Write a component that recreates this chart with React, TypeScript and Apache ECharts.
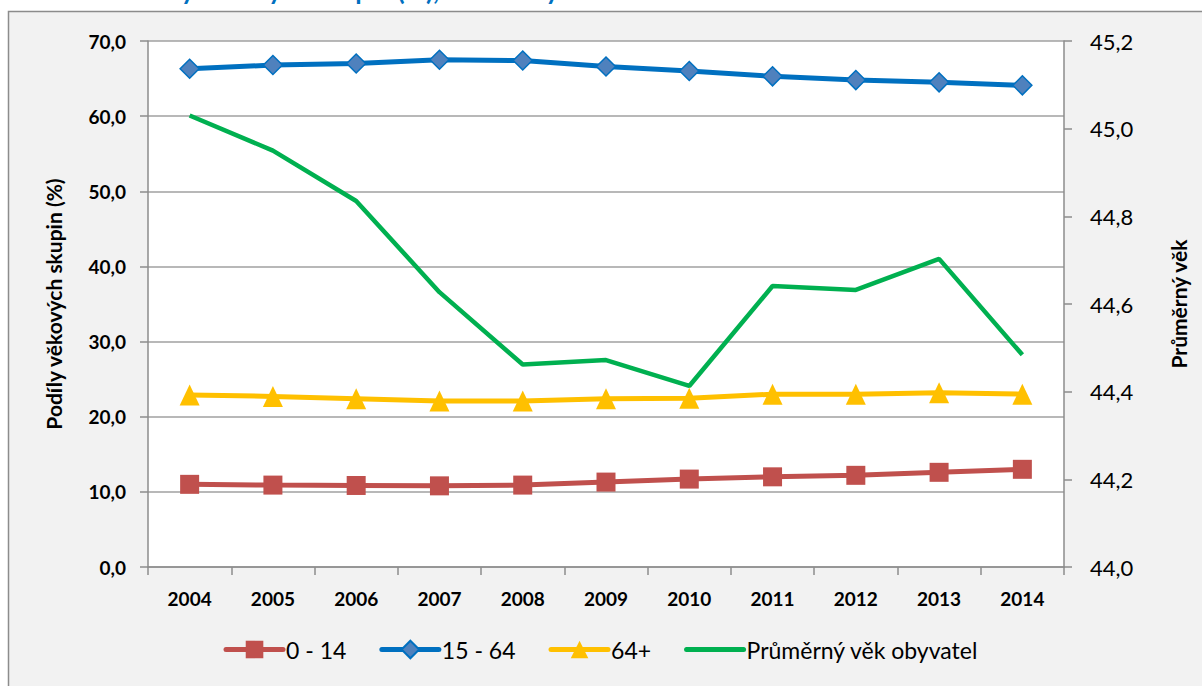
import React, { useEffect, useRef } from "react";
import * as echarts from "echarts";

const years = ["2004", "2005", "2006", "2007", "2008", "2009", "2010", "2011", "2012", "2013", "2014"];
const age0to14 = [11.0, 10.9, 10.85, 10.8, 10.9, 11.3, 11.7, 12.0, 12.2, 12.6, 13.0];
const age15to64 = [66.3, 66.8, 67.0, 67.5, 67.4, 66.6, 66.0, 65.3, 64.8, 64.5, 64.1];
const age64plus = [22.9, 22.7, 22.4, 22.1, 22.1, 22.4, 22.45, 23.0, 23.0, 23.2, 23.0];
const avgAge = [45.03, 44.95, 44.835, 44.627, 44.462, 44.472, 44.413, 44.641, 44.632, 44.703, 44.484];
const seriesNames = ["0 - 14", "15 - 64", "64+", "Průměrný věk obyvatel"];
const leftAxisName = "Podíly věkových skupin (%)";
const rightAxisName = "Průměrný věk";
const titleText = "Podíly věkových skupin (%), Průměrný věk";

const FONT = "Lato, 'Open Sans', sans-serif";

export default function App() {
  const ref = useRef<HTMLDivElement>(null);
  useEffect(() => {
    document.body.style.margin = "0";
    const chart = echarts.init(ref.current!, undefined, { renderer: "svg" });
    const fmt = (v: number) => v.toFixed(1).replace(".", ",");
    chart.setOption({
      animation: false,
      backgroundColor: "#ffffff",
      graphic: [
        {
          type: "rect",
          shape: { x: 8.5, y: 11.5, width: 1200, height: 680 },
          style: { fill: "#f2f2f2", stroke: "#8c8c8c", lineWidth: 1.5 },
          z: -10,
        },
        {
          type: "text",
          x: 122,
          y: 3,
          style: {
            text: titleText,
            fill: "#0070c0",
            font: "bold 26px " + FONT,
            verticalAlign: "bottom",
          },
          z: -11,
        },
      ],
      grid: {
        left: 148,
        right: 138,
        top: 41,
        bottom: 119,
        show: true,
        backgroundColor: "#ffffff",
        borderWidth: 0,
      },
      legend: {
        bottom: 20,
        left: "center",
        itemWidth: 57,
        itemHeight: 22,
        itemGap: 33,
        textStyle: { fontFamily: FONT, fontSize: 23, color: "#000", padding: [0, 0, 0, -2] },
        lineStyle: { width: 5, cap: "round" },
        data: [
          { name: seriesNames[0] },
          { name: seriesNames[1] },
          { name: seriesNames[2] },
          { name: seriesNames[3], itemStyle: { opacity: 0 } },
        ],
      },
      xAxis: {
        type: "category",
        data: years,
        boundaryGap: true,
        axisLine: { lineStyle: { color: "#8c8c8c", width: 1.5 } },
        axisTick: { show: true, length: 8, lineStyle: { color: "#8c8c8c", width: 1.5 } },
        axisLabel: { fontFamily: FONT, fontSize: 19, fontWeight: "bold", color: "#000", margin: 22 },
      },
      yAxis: [
        {
          type: "value",
          min: 0,
          max: 70,
          interval: 10,
          name: leftAxisName,
          nameLocation: "middle",
          nameGap: 84,
          nameTextStyle: { fontFamily: FONT, fontSize: 21, fontWeight: "bold", color: "#000" },
          axisLine: { show: true, lineStyle: { color: "#8c8c8c", width: 1.5 } },
          axisTick: { show: true, length: 8, lineStyle: { color: "#8c8c8c", width: 1.5 } },
          splitLine: { show: true, lineStyle: { color: "#a0a0a0", width: 1.5 } },
          axisLabel: { fontFamily: FONT, fontSize: 19, fontWeight: "bold", color: "#000", margin: 22, formatter: fmt },
        },
        {
          type: "value",
          min: 44,
          max: 45.2,
          interval: 0.2,
          position: "right",
          name: rightAxisName,
          nameLocation: "middle",
          nameGap: 104,
          nameRotate: 90,
          nameTextStyle: { fontFamily: FONT, fontSize: 21, fontWeight: "bold", color: "#000" },
          axisLine: { show: true, lineStyle: { color: "#8c8c8c", width: 1.5 } },
          axisTick: { show: true, length: 8, lineStyle: { color: "#8c8c8c", width: 1.5 } },
          splitLine: { show: false },
          axisLabel: { fontFamily: FONT, fontSize: 22, color: "#000", margin: 26, formatter: fmt },
        },
      ],
      series: [
        {
          name: seriesNames[0],
          type: "line",
          data: age0to14,
          yAxisIndex: 0,
          color: "#c0504d",
          lineStyle: { width: 5, color: "#c0504d" },
          symbol: "rect",
          symbolSize: 19,
          itemStyle: { color: "#c0504d" },
          z: 3,
        },
        {
          name: seriesNames[1],
          type: "line",
          data: age15to64,
          yAxisIndex: 0,
          color: "#0070c0",
          lineStyle: { width: 5, color: "#0070c0" },
          symbol: "diamond",
          symbolSize: 19,
          itemStyle: { color: "#4f81bd", borderColor: "#0070c0", borderWidth: 1.5 },
          z: 3,
        },
        {
          name: seriesNames[2],
          type: "line",
          data: age64plus,
          yAxisIndex: 0,
          color: "#ffc000",
          lineStyle: { width: 5, color: "#ffc000" },
          symbol: "triangle",
          symbolSize: [20, 21],
          itemStyle: { color: "#ffc000" },
          z: 3,
        },
        {
          name: seriesNames[3],
          type: "line",
          data: avgAge,
          yAxisIndex: 1,
          color: "#00b050",
          lineStyle: { width: 4.5, color: "#00b050" },
          symbol: "none",
          showSymbol: false,
          z: 2,
        },
      ],
    });
    return () => chart.dispose();
  }, []);
  return <div ref={ref} style={{ width: 1202, height: 686 }} />;
}
